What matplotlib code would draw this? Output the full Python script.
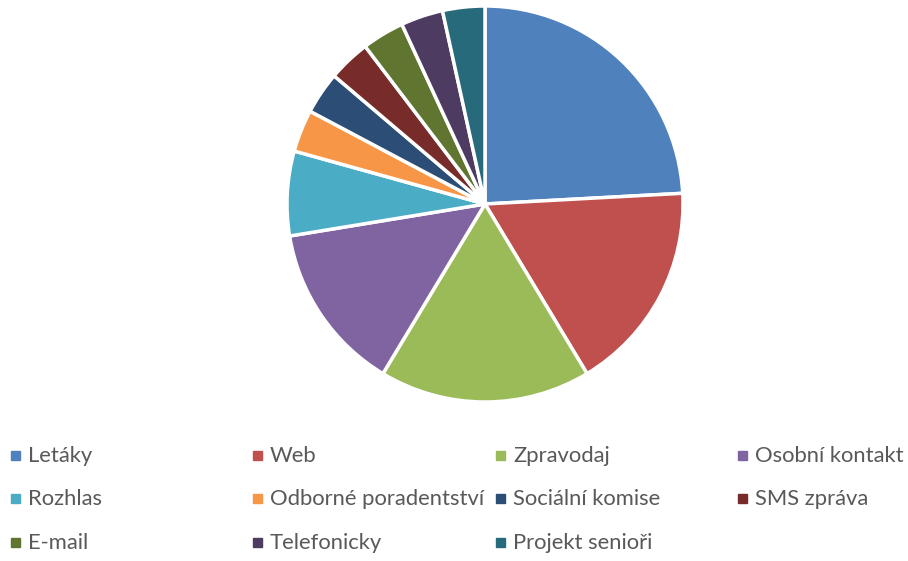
import matplotlib
matplotlib.use('Agg')
import matplotlib.pyplot as plt
from matplotlib.patches import Rectangle

labels = ['Letáky', 'Web', 'Zpravodaj', 'Osobní kontakt', 'Rozhlas',
          'Odborné poradentství', 'Sociální komise', 'SMS zpráva',
          'E-mail', 'Telefonicky', 'Projekt senioři']
values = [7, 5, 5, 4, 2, 1, 1, 1, 1, 1, 1]
colors = ['#4F81BD', '#C0504D', '#9BBB59', '#8064A2', '#4BACC6', '#F79646',
          '#2C4D75', '#772C2A', '#5F7530', '#4D3B62', '#276A7C']

plt.rcParams['font.family'] = ['Lato', 'DejaVu Sans']

fig = plt.figure(figsize=(9.08, 5.61), dpi=100)
W, H = 908, 561
cx, cy, r = 485, 204, 198
ax = fig.add_axes([(cx - r) / W, 1 - (cy + r) / H, 2 * r / W, 2 * r / H])
ax.pie(values, colors=colors, startangle=90, counterclock=False,
       wedgeprops=dict(edgecolor='white', linewidth=2.5))
ax.set_aspect('equal')
ax.set_xlim(-1, 1)
ax.set_ylim(-1, 1)

# legend in 4 equal columns like Excel
col_x = [11, 253, 496, 738]
row_y = [455, 498, 542]
for i, (lab, c) in enumerate(zip(labels, colors)):
    x = col_x[i % 4]
    y = row_y[i // 4]
    fig.patches.append(Rectangle((x / W, 1 - (y + 4.5) / H), 9 / W, 9 / H,
                                 transform=fig.transFigure, color=c))
    fig.text((x + 17) / W, 1 - (y + 1) / H, lab, fontsize=15.8, color='#595959',
             va='center', ha='left')

fig.savefig('out.png', dpi=100)
